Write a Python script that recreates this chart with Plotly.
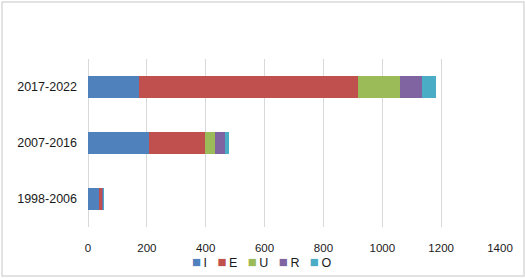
import plotly.graph_objects as go

categories = ["1998-2006", "2007-2016", "2017-2022"]
series_names = ["I", "E", "U", "R", "O"]
I_vals = [36, 207, 172]
E_vals = [13, 191, 746]
U_vals = [1, 32, 141]
R_vals = [1, 36, 76]
O_vals = [1, 12, 46]
x_tick_vals = [0, 200, 400, 600, 800, 1000, 1200, 1400]

colors = ["#4F81BD", "#C0504D", "#9BBB59", "#8064A2", "#4BACC6"]
series_values = [I_vals, E_vals, U_vals, R_vals, O_vals]

fig = go.Figure()
for name, vals, col in zip(series_names, series_values, colors):
    fig.add_trace(go.Bar(
        y=categories, x=vals, name=name, orientation="h",
        marker=dict(color=col, line=dict(width=0)),
    ))

fig.update_layout(
    width=525, height=278,
    barmode="stack", bargap=0.6,
    margin=dict(l=88, r=25, t=59, b=51),
    paper_bgcolor="white", plot_bgcolor="white",
    font=dict(family="Liberation Sans", size=12, color="#1a1a1a"),
    showlegend=False,
    xaxis=dict(range=[0, 1400], tickvals=x_tick_vals, showgrid=True, gridcolor="#D9D9D9",
               gridwidth=1, zeroline=True, zerolinecolor="#D9D9D9", zerolinewidth=1,
               showline=False, tickfont=dict(size=11.5), ticklabelstandoff=12, fixedrange=True),
    yaxis=dict(showgrid=False, showline=False, zeroline=False, tickfont=dict(size=12.5),
               ticklabelstandoff=10, fixedrange=True),
)

# Legend built as text (Excel-style compact legend)
legend_text = "&nbsp;&nbsp;&nbsp;".join(
    f"<span style='color:{c};font-size:15px'>■</span>\u2009{n}" for n, c in zip(series_names, colors)
)
fig.add_annotation(text=legend_text, xref="paper", yref="paper",
                   x=(261 - 88) / 412, y=(227 - 261) / 168, xanchor="center", yanchor="middle",
                   showarrow=False, font=dict(size=12.5, family="Liberation Sans", color="#1a1a1a"))

fig.add_shape(type="rect", xref="paper", yref="paper",
              x0=(2 - 88) / 412, x1=(524 - 88) / 412,
              y0=(227 - 276) / 168, y1=(227 - 2) / 168,
              line=dict(color="#D9D9D9", width=1.5), fillcolor="rgba(0,0,0,0)", layer="below")

fig.write_html("out.html", config={"displayModeBar": False},
               post_script="document.body.style.margin='0';document.body.style.padding='0';")
